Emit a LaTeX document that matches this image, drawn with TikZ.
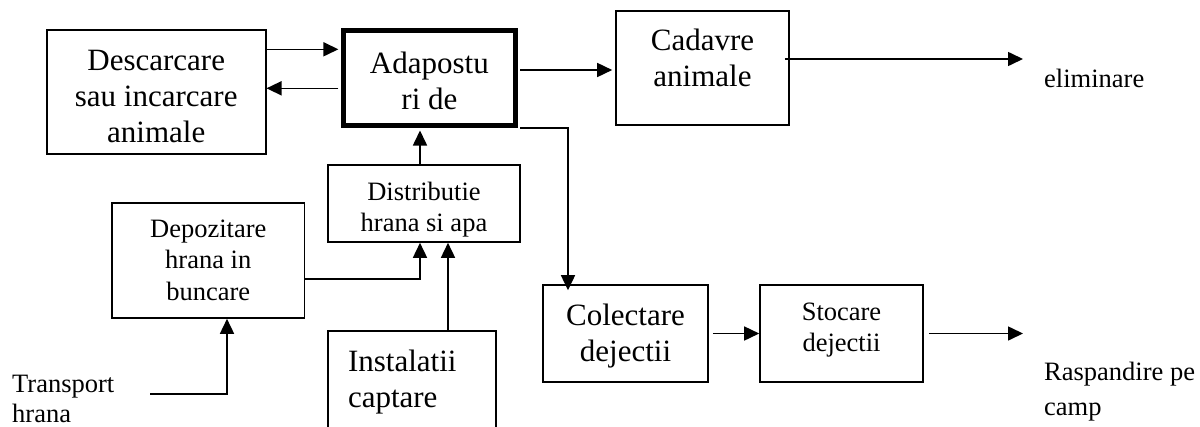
\documentclass[tikz,border=0pt]{standalone}
\usepackage{fontspec}
\setmainfont{Liberation Serif}
\usetikzlibrary{arrows.meta}
\newcommand{\fbig}{\fontsize{31}{36}\selectfont}
\newcommand{\fsmall}{\fontsize{26.5}{31.5}\selectfont}
% #1 width, #2 height, #3 first baseline from top, #4 text
\newcommand{\boxtext}[4]{\parbox[c][#2][t]{#1}{\centering\rule{0pt}{#3}#4}}
\newcommand{\boxtextleft}[5]{\parbox[c][#2][t]{#1}{\raggedright\leftskip=#4\rule{0pt}{#3}#5}}
\tikzset{
  flowbox/.style={draw, line width=1.6pt, inner sep=0pt},
  mainbox/.style={draw, line width=5pt, inner sep=0pt},
  bigtext/.style={font=\fbig},
  smalltext/.style={font=\fsmall},
  freetext/.style={inner sep=0pt, anchor=base west},
  arr/.style={line width=1.6pt, -{Triangle[length=15pt,width=14pt]}},
}
\begin{document}
\begin{tikzpicture}[x=1pt,y=-1pt]
\useasboundingbox (0,0) rectangle (1200,426);
\clip (0,0) rectangle (1200,426);

% boxes
\node[flowbox, bigtext] (desc) at (156.2,92)
  {\boxtext{219pt}{124pt}{40pt}{Descarcare\\sau incarcare\\animale}};
\node[mainbox, bigtext] (adap) at (429.4,78)
  {\boxtext{172pt}{95pt}{42.5pt}{Adapostu\\ri de}};
\node[flowbox, bigtext] (cad) at (702.5,68)
  {\boxtext{173pt}{114pt}{39pt}{Cadavre\\animale}};
\node[flowbox, smalltext] (distrib) at (424,203.5)
  {\boxtext{192pt}{77pt}{35pt}{Distributie\\hrana si apa}};
\node[flowbox, smalltext] (depoz) at (208.25,260.5)
  {\boxtext{192.5pt}{115pt}{34pt}{Depozitare\\hrana in\\buncare}};
\node[flowbox, bigtext] (instal) at (412,391)
  {\boxtextleft{168pt}{120pt}{40pt}{20pt}{Instalatii\\captare}};
\node[flowbox, bigtext] (colect) at (625.5,333.5)
  {\boxtext{165pt}{97pt}{40pt}{Colectare\\dejectii}};
\node[flowbox, smalltext] (stocare) at (841.5,333.5)
  {\boxtext{163pt}{97pt}{35pt}{Stocare\\dejectii}};

% free texts
\node[freetext, smalltext] (elim) at (1044,87) {eliminare};
\node[freetext, font=\fontsize{26.5}{30}\selectfont] (trans) at (12,392)
  {\parbox[t]{150pt}{\raggedright Transport\\hrana}};
\node[freetext, font=\fontsize{26.5}{35}\selectfont] (rasp) at (1044,380)
  {\parbox[t]{156pt}{\raggedright Raspandire pe\\camp}};

% helper coordinates
\coordinate (ya) at (0,49.3);
\coordinate (yb) at (0,88.3);
\coordinate (yc) at (0,70);
\coordinate (yd) at (0,59);
\coordinate (ye) at (0,279);
\coordinate (xa) at (568,0);
\coordinate (xb) at (420,0);
\coordinate (xc) at (448,0);
\coordinate (xd) at (227,0);
\coordinate (elimtip) at (1023,59);
\coordinate (tstart) at (150,394);
\coordinate (rasptip) at (1023,333.5);

% connectors
\draw[arr, shorten >=2.5pt] (desc.east |- ya) -- (adap.west |- ya);
\draw[arr, shorten <=2.5pt] (adap.west |- yb) -- (desc.east |- yb);
\draw[arr, shorten <=2.5pt, shorten >=3pt] (adap.east |- yc) -- (cad.west |- yc);
\draw[arr, shorten <=-5pt] (cad.east |- yd) -- (elimtip);
\draw[arr, shorten <=2.5pt, shorten >=-6pt] (adap.south east) -| (colect.north -| xa);
\draw[arr, shorten >=2.5pt] (distrib.north -| xb) -- (adap.south -| xb);
\draw[arr] (depoz.east |- ye) -| (distrib.south -| xb);
\draw[arr] (instal.north -| xc) -- (distrib.south -| xc);
\draw[arr] (tstart) -| (depoz.south -| xd);
\draw[arr, shorten <=4pt] (colect.east) -- (stocare.west);
\draw[arr, shorten <=5pt] (stocare.east) -- (rasptip);
\end{tikzpicture}
\end{document}
